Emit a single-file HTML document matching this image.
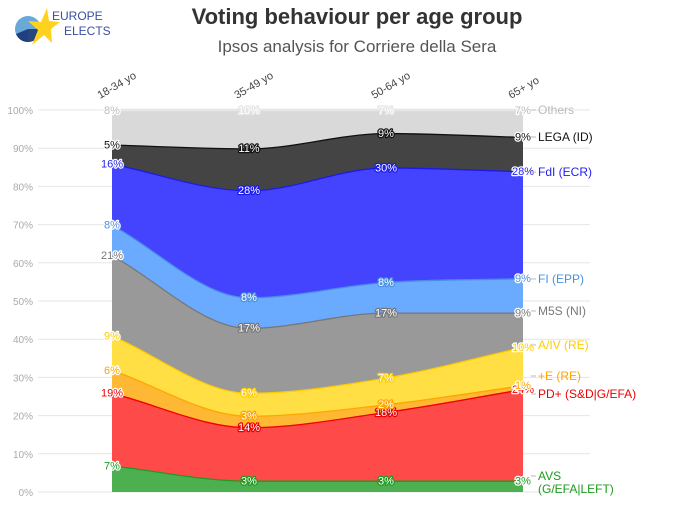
<!DOCTYPE html>
<html><head><meta charset="utf-8"><style>
body{margin:0;background:#fff;}
svg text{font-family:"Liberation Sans",sans-serif;}
</style></head><body>
<svg id="c" width="693" height="503" viewBox="0 0 693 503">
<g>
<circle cx="28" cy="29" r="13" fill="#6aa8d8"/>
<path d="M28 29 L28 42 A13 13 0 0 1 16 34 Z" fill="#1f3f7f"/>
<path d="M28 29 L41 29 A13 13 0 0 1 28 42 Z" fill="#27457f"/>
<polygon points="47,8 41,22 28,21 38,30 32,45 44,35 52,43 51,29 60,22 49,21" fill="#ffd21f"/>
<text x="52" y="20" font-size="12" fill="#3b4fa0">EUROPE</text>
<text x="64" y="35" font-size="12" fill="#3b4fa0">ELECTS</text>
</g>
<text x="357" y="24" text-anchor="middle" font-size="22" font-weight="bold" fill="#333">Voting behaviour per age group</text>
<text x="357" y="52" text-anchor="middle" font-size="17" fill="#555">Ipsos analysis for Corriere della Sera</text>
<g id="grid"></g><g id="areas"></g><g id="lbls"></g>
</svg>
<script>
const categories=["18-34 yo","35-49 yo","50-64 yo","65+ yo"];
const seriesNames=["AVS","PD+","+E","A/IV","M5S","FI","FdI","LEGA","Others"];
const legendLabels=["AVS (G/EFA|LEFT)","PD+ (S&D|G/EFA)","+E (RE)","A/IV (RE)","M5S (NI)","FI (EPP)","FdI (ECR)","LEGA (ID)","Others"];
const avs=[7,3,3,3];
const pd=[19,14,18,24];
const pe=[6,3,2,1];
const aiv=[9,6,7,10];
const m5s=[21,17,17,9];
const fi=[8,8,8,9];
const fdi=[16,28,30,28];
const lega=[5,11,9,9];
const others=[8,10,7,7];
const yTicks=[0,10,20,30,40,50,60,70,80,90,100];
const series=[avs,pd,pe,aiv,m5s,fi,fdi,lega,others];
const fills=["#4caf50","#ff4a4a","#ffb833","#ffdf44","#999999","#6aabff","#4444ff","#444444","#d9d9d9"];
const lines=["#1e9a1e","#ee0000","#ffa500","#ffcc00","#777777","#4a90e2","#1a1aee","#111111","#e6e6e6"];
const lblCol=["#1e9a1e","#ee0000","#ffa500","#ffcc00","#777777","#4a90e2","#2222ee","#111111","#bbbbbb"];
const legY=[476,394,376,345,311,279,172,137,110];
const NS="http://www.w3.org/2000/svg";
const X0=112,X1=523,Y0=492,Y100=110;
const xs=i=>X0+(X1-X0)*i/(categories.length-1);
const ys=v=>Y0-(Y0-Y100)*v/100;
function mk(t,a,p){const e=document.createElementNS(NS,t);for(const k in a)e.setAttribute(k,a[k]);p.appendChild(e);return e;}
const grid=document.getElementById('grid'),areas=document.getElementById('areas'),lbls=document.getElementById('lbls');
yTicks.forEach(t=>{
 const l=mk('line',{x1:38,x2:590,y1:ys(t),y2:ys(t),stroke:'#e6e6e6','stroke-width':1},grid);
 
 
 const tx=mk('text',{x:33,y:ys(t)+4,'text-anchor':'end','font-size':10,fill:'#aaa'},grid);
 tx.textContent=t+'%';
 
 
});
categories.forEach((c,i)=>{
 const tx=mk('text',{transform:`translate(${xs(i)-12},${99}) rotate(-30)`,'font-size':11,fill:'#444'},grid);
 tx.textContent=c;
 
 
});
function monoPath(pts){
 const n=pts.length,d=[],m=[];
 for(let i=0;i<n-1;i++)d.push((pts[i+1][1]-pts[i][1])/(pts[i+1][0]-pts[i][0]));
 m[0]=d[0];m[n-1]=d[n-2];
 for(let i=1;i<n-1;i++)m[i]=(d[i-1]*d[i]<=0)?0:(d[i-1]+d[i])/2;
 for(let i=0;i<n-1;i++){if(d[i]===0){m[i]=0;m[i+1]=0;continue;}const a=m[i]/d[i],b=m[i+1]/d[i],s=a*a+b*b;if(s>9){const t=3/Math.sqrt(s);m[i]=t*a*d[i];m[i+1]=t*b*d[i];}}
 let p='';
 for(let i=0;i<n-1;i++){const h=(pts[i+1][0]-pts[i][0])/3;
  p+=` C${pts[i][0]+h},${pts[i][1]+m[i]*h} ${pts[i+1][0]-h},${pts[i+1][1]-m[i+1]*h} ${pts[i+1][0]},${pts[i+1][1]}`;}
 return p;
}
let base=categories.map(()=>0);
const tops=[];
series.forEach((s,k)=>{
 const top=s.map((v,i)=>k===series.length-1?100:base[i]+v);
 tops.push(top);
 const tp=top.map((v,i)=>[xs(i),ys(v)]);
 const bp=base.map((v,i)=>[xs(i),ys(v)]).reverse();
 const d='M'+tp[0][0]+','+tp[0][1]+monoPath(tp)+' L'+bp[0][0]+','+bp[0][1]+monoPath(bp)+' Z';
 const a=mk('path',{d:d,fill:fills[k]},areas);
 
 
 const ln=mk('path',{d:'M'+tp[0][0]+','+tp[0][1]+monoPath(tp),fill:'none',stroke:lines[k],'stroke-width':2.6},areas);
 
 
 base=top;
});
series.forEach((s,k)=>{
 s.forEach((v,i)=>{
  const edge=(i===0||i===s.length-1);
  const tx=mk('text',{x:xs(i),y:ys(tops[k][i])+4,'text-anchor':'middle','font-size':11,
   fill:edge?lblCol[k]:'#fff',stroke:edge?'#fff':lines[k],'stroke-width':2.5,'paint-order':'stroke','stroke-linejoin':'round'},lbls);
  tx.textContent=v+'%';
  
  
 });
 const yy=legY[k];
 mk('line',{x1:531,x2:536,y1:yy,y2:yy,stroke:'#bbb'},lbls);
 const parts=legendLabels[k]==="AVS (G/EFA|LEFT)"?["AVS","(G/EFA|LEFT)"]:[legendLabels[k]];
 parts.forEach((p,j)=>{
  const tx=mk('text',{x:538,y:yy+4+j*13,'font-size':12,fill:lblCol[k]},lbls);
  tx.textContent=p;
  
  
 });
});
</script>
</body></html>
